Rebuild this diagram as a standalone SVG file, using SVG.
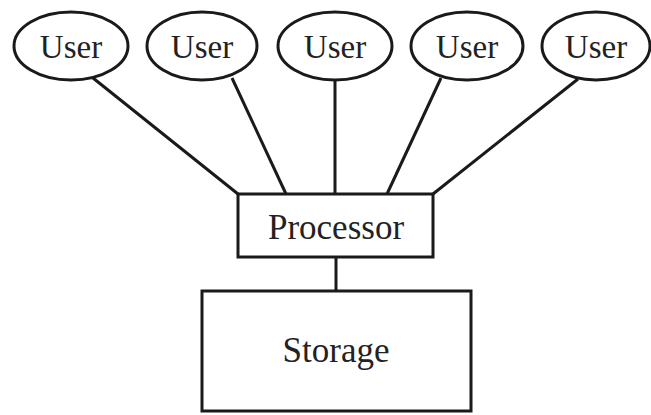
<svg xmlns="http://www.w3.org/2000/svg" width="651" height="415" viewBox="0 0 651 415">
<style>
.n{fill:#fff;stroke:#1a1a1a;stroke-width:3}
.c line{stroke:#1a1a1a;stroke-width:3}
text{font-family:"Liberation Serif","Times New Roman",serif;fill:#222;text-anchor:middle}
.u{font-size:33px}
.b{font-size:35px}
</style>
<rect width="651" height="415" fill="#fff"/>
<g id="connectors" class="c">
<line x1="93" y1="78" x2="238" y2="194"/>
<line x1="232" y1="78" x2="286" y2="194"/>
<line x1="335" y1="80" x2="335" y2="194"/>
<line x1="441" y1="78" x2="387" y2="194"/>
<line x1="578" y1="79" x2="433" y2="194"/>
<line x1="336" y1="257" x2="336" y2="291"/>
</g>
<g id="user1"><ellipse class="n" cx="71" cy="46" rx="57" ry="34"/><text class="u" x="71" y="58">User</text></g>
<g id="user2"><ellipse class="n" cx="202" cy="46" rx="55" ry="34"/><text class="u" x="202" y="58">User</text></g>
<g id="user3"><ellipse class="n" cx="335" cy="46" rx="57" ry="34"/><text class="u" x="335" y="58">User</text></g>
<g id="user4"><ellipse class="n" cx="467" cy="46" rx="56" ry="34"/><text class="u" x="467" y="58">User</text></g>
<g id="user5"><ellipse class="n" cx="596" cy="46" rx="54" ry="34"/><text class="u" x="596" y="58">User</text></g>
<g id="processor"><rect class="n" x="238" y="194" width="195" height="63"/><text class="b" x="336" y="239">Processor</text></g>
<g id="storage"><rect class="n" x="202" y="291" width="269" height="120"/><text class="b" x="336" y="362">Storage</text></g>
</svg>
